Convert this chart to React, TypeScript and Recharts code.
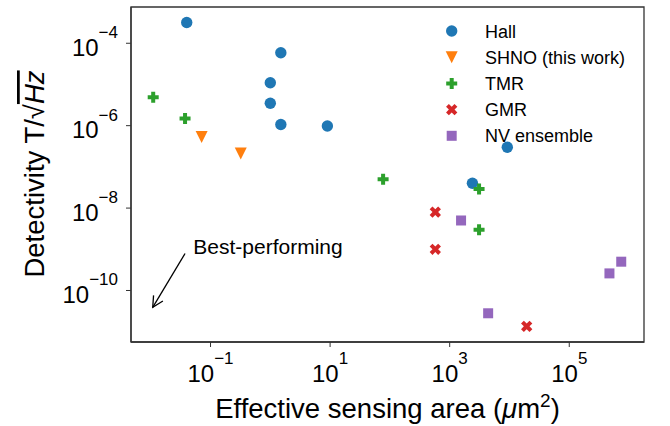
import React from "react";
import {
  ScatterChart,
  Scatter,
  XAxis,
  YAxis,
  Legend,
  ReferenceArea,
  ReferenceLine,
  ReferenceDot,
} from "recharts";

// values (log-log axes)
const hallX = [0.04, 1.5, 1.0, 1.0, 1.5, 9, 2400, 9200];
const hallY = [3.2e-4, 5.9e-5, 1.1e-5, 3.5e-6, 1.07e-6, 9.8e-7, 4e-8, 3e-7];
const shnoX = [0.071, 0.32];
const shnoY = [5.3e-7, 2.1e-7];
const tmrX = [0.011, 0.0375, 77, 3100, 3100];
const tmrY = [4.9e-6, 1.5e-6, 5e-8, 2.9e-8, 3e-9];
const gmrX = [575, 575, 19400];
const gmrY = [8e-9, 1e-9, 1.35e-11];
const nvX = [1550, 4400, 4.7e5, 7.4e5];
const nvY = [5e-9, 2.8e-11, 2.6e-10, 5e-10];

const xTicks = [1e-1, 1e1, 1e3, 1e5];
const yTicks = [1e-4, 1e-6, 1e-8, 1e-10];
const xDomain = [Math.pow(10, -2.33), Math.pow(10, 6.25)];
const yDomain = [Math.pow(10, -11.25), Math.pow(10, -3.12)];

const arrowStart = { x: 0.0375, y: 7.9e-10 };
const arrowEnd = { x: 0.0108, y: 3.9e-11 };
const noteAt = { x: 0.0515, y: 7.9e-10 };
const noteText = "Best-performing";

const xLabel = "Effective sensing area (";
const yLabel = "Detectivity T/\u221A";

const zip = (xs: number[], ys: number[]) => xs.map((x, i) => ({ x, y: ys[i] }));

const FONT = "'Liberation Sans', Arial, Helvetica, sans-serif";
const INK = "#333";

const series = [
  { name: "Hall", data: zip(hallX, hallY), color: "#1f77b4", marker: "circle" },
  { name: "SHNO (this work)", data: zip(shnoX, shnoY), color: "#ff7f0e", marker: "tri" },
  { name: "TMR", data: zip(tmrX, tmrY), color: "#2ca02c", marker: "plus" },
  { name: "GMR", data: zip(gmrX, gmrY), color: "#d62728", marker: "x" },
  { name: "NV ensemble", data: zip(nvX, nvY), color: "#9467bd", marker: "square" },
];

function Marker({ cx, cy, kind, color }: any) {
  if (cx == null || cy == null) return null;
  if (kind === "circle") return <circle cx={cx} cy={cy} r={5.7} fill={color} />;
  if (kind === "square") return <rect x={cx - 5} y={cy - 5} width={10} height={10} fill={color} />;
  if (kind === "tri") {
    const s = 6;
    return <path d={`M${cx - s},${cy - s} L${cx + s},${cy - s} L${cx},${cy + s} Z`} fill={color} />;
  }
  const a = kind === "plus" ? 5.5 : 6;
  const b = 2;
  const cross = `M${cx - b},${cy - a} H${cx + b} V${cy - b} H${cx + a} V${cy + b} H${cx + b} V${cy + a} H${cx - b} V${cy + b} H${cx - a} V${cy - b} H${cx - b} Z`;
  if (kind === "plus") return <path d={cross} fill={color} />;
  // filled x
  return <path d={cross} fill={color} transform={`rotate(45 ${cx} ${cy})`} />;
}

const supText = (v: number) => {
  const e = Math.round(Math.log10(v));
  return e < 0 ? "\u2212" + Math.abs(e) : String(e);
};

function XTick({ x, y, payload }: any) {
  return (
    <text x={x} y={y + 33} textAnchor="middle" fontFamily={FONT} fill="#000">
      <tspan fontSize={24}>10</tspan>
      <tspan fontSize={17} dy={-18.5}>{supText(payload.value)}</tspan>
    </text>
  );
}

function YTick({ x, y, payload }: any) {
  return (
    <text x={x - 6} y={y + 12.7} textAnchor="end" fontFamily={FONT} fill="#000">
      <tspan fontSize={24}>10</tspan>
      <tspan fontSize={17} dy={-17.7}>{supText(payload.value)}</tspan>
    </text>
  );
}

function Arrow({ x1, y1, x2, y2 }: any) {
  const ang = Math.atan2(y1 - y2, x1 - x2);
  const len = 12;
  const spread = (27 * Math.PI) / 180;
  const p1 = [x2 + len * Math.cos(ang + spread), y2 + len * Math.sin(ang + spread)];
  const p2 = [x2 + len * Math.cos(ang - spread), y2 + len * Math.sin(ang - spread)];
  return (
    <g stroke="#000" strokeWidth={1.3} fill="none">
      <line x1={x1} y1={y1} x2={x2} y2={y2} />
      <polyline points={`${p1[0]},${p1[1]} ${x2},${y2} ${p2[0]},${p2[1]}`} />
    </g>
  );
}

function LegendBox() {
  return (
    <svg width={220} height={140} style={{ display: "block" }}>
      {series.map((s, i) => {
        const cy = 13 + i * 26.2;
        return (
          <g key={s.name}>
            <Marker cx={11.7} cy={cy} kind={s.marker} color={s.color} />
            <text x={45} y={cy + 6.5} fontSize={18} fontFamily={FONT} fill="#000">
              {s.name}
            </text>
          </g>
        );
      })}
    </svg>
  );
}

export default function App() {
  return (
    <div style={{ position: "absolute", left: 0, top: 0, background: "#fff" }}>
      <ScatterChart width={670} height={426} margin={{ top: 7, right: 26, bottom: 0, left: 0 }}>
        <XAxis
          type="number"
          dataKey="x"
          scale="log"
          domain={xDomain}
          allowDataOverflow
          ticks={xTicks}
          tick={<XTick />}
          tickSize={5}
          height={84}
          stroke={INK}
          axisLine={{ stroke: INK, strokeWidth: 1.3 }}
          tickLine={{ stroke: INK, strokeWidth: 1 }}
          label={(p: any) => {
            const vb = p.viewBox || { x: 131, y: 342, width: 513 };
            return (
              <text
                x={vb.x + vb.width / 2}
                y={418}
                textAnchor="middle"
                fontSize={27.5}
                fontFamily={FONT}
                fill="#000"
              >
                {xLabel}
                <tspan fontStyle="italic">{"\u03BC"}</tspan>
                m
                <tspan fontSize={19} dy={-11}>2</tspan>
                <tspan dy={11}>)</tspan>
              </text>
            );
          }}
        />
        <YAxis
          type="number"
          dataKey="y"
          scale="log"
          domain={yDomain}
          allowDataOverflow
          ticks={yTicks}
          tick={<YTick />}
          tickSize={5}
          width={131}
          stroke={INK}
          axisLine={{ stroke: INK, strokeWidth: 1.3 }}
          tickLine={{ stroke: INK, strokeWidth: 1 }}
          label={() => (
            <text
              x={44}
              y={174}
              transform="rotate(-90, 44, 174)"
              textAnchor="middle"
              fontSize={27.5}
              fontFamily={FONT}
              fill="#000"
            >
              {yLabel}
              <tspan fontStyle="italic" style={{ textDecoration: "overline" }}>
                Hz
              </tspan>
            </text>
          )}
        />
        <ReferenceArea
          x1={xDomain[0]}
          x2={xDomain[1]}
          y1={yDomain[0]}
          y2={yDomain[1]}
          fill="none"
          fillOpacity={0}
          stroke={INK}
          strokeWidth={1.3}
          ifOverflow="visible"
        />
        <ReferenceLine
          segment={[arrowStart, arrowEnd]}
          ifOverflow="visible"
          shape={(p: any) => <Arrow {...p} />}
        />
        <ReferenceDot
          x={noteAt.x}
          y={noteAt.y}
          ifOverflow="visible"
          shape={(p: any) => (
            <text x={p.cx} y={p.cy} fontSize={21} fontFamily={FONT} fill="#000">
              {noteText}
            </text>
          )}
        />
        {series.map((s) => (
          <Scatter
            key={s.name}
            name={s.name}
            data={s.data}
            fill={s.color}
            isAnimationActive={false}
            shape={(p: any) => <Marker cx={p.cx} cy={p.cy} kind={s.marker} color={s.color} />}
          />
        ))}
        <Legend
          layout="vertical"
          align="center"
          verticalAlign="middle"
          wrapperStyle={{ top: 18, left: 440, width: 220 }}
          content={() => <LegendBox />}
        />
      </ScatterChart>
    </div>
  );
}
